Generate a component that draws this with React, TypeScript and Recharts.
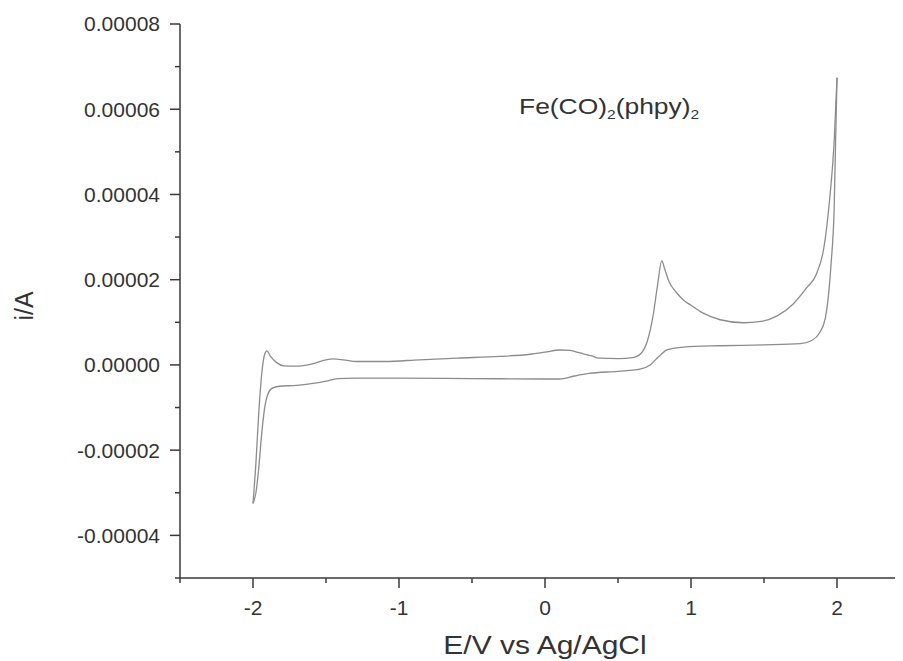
import { Line, LineChart, XAxis, YAxis } from "recharts";

// forward scan (-2 V -> +2 V), potential in V, current in A
const upperE = [-2.0, -1.98, -1.96, -1.94, -1.92, -1.905, -1.88, -1.84, -1.79, -1.7, -1.6, -1.5, -1.45, -1.38, -1.29, -1.1, -0.86, -0.6, -0.31, -0.1, 0.0, 0.1, 0.17, 0.24, 0.32, 0.37, 0.5, 0.6, 0.66, 0.7, 0.74, 0.77, 0.8, 0.82, 0.85, 0.9, 0.95, 1.0, 1.08, 1.2, 1.36, 1.48, 1.59, 1.7, 1.79, 1.86, 1.91, 1.95, 1.98, 2.0];
const upperI = [-3.25e-5, -2.3e-5, -1.1e-5, -0.2e-5, 0.25e-5, 0.33e-5, 0.2e-5, 0.06e-5, -0.02e-5, -0.03e-5, 0.02e-5, 0.12e-5, 0.14e-5, 0.12e-5, 0.08e-5, 0.08e-5, 0.12e-5, 0.16e-5, 0.2e-5, 0.25e-5, 0.3e-5, 0.35e-5, 0.34e-5, 0.28e-5, 0.21e-5, 0.16e-5, 0.15e-5, 0.17e-5, 0.28e-5, 0.55e-5, 1.15e-5, 1.85e-5, 2.44e-5, 2.25e-5, 1.95e-5, 1.7e-5, 1.52e-5, 1.4e-5, 1.22e-5, 1.06e-5, 0.99e-5, 1.02e-5, 1.15e-5, 1.43e-5, 1.8e-5, 2.14e-5, 2.75e-5, 3.9e-5, 5.2e-5, 6.74e-5];

// reverse scan (+2 V -> -2 V), listed by rising potential
const lowerE = [-2.0, -1.98, -1.96, -1.94, -1.92, -1.9, -1.87, -1.82, -1.7, -1.6, -1.5, -1.42, -1.3, -1.0, -0.5, 0.0, 0.1, 0.2, 0.3, 0.5, 0.65, 0.72, 0.78, 0.84, 0.95, 1.2, 1.5, 1.75, 1.83, 1.88, 1.92, 1.96, 1.98, 2.0];
const lowerI = [-3.25e-5, -3.0e-5, -2.4e-5, -1.6e-5, -1.0e-5, -0.7e-5, -0.55e-5, -0.5e-5, -0.48e-5, -0.44e-5, -0.38e-5, -0.32e-5, -0.31e-5, -0.31e-5, -0.32e-5, -0.33e-5, -0.33e-5, -0.26e-5, -0.2e-5, -0.15e-5, -0.1e-5, 0.0, 0.2e-5, 0.36e-5, 0.42e-5, 0.45e-5, 0.47e-5, 0.5e-5, 0.58e-5, 0.75e-5, 1.1e-5, 2.4e-5, 3.6e-5, 6.74e-5];

const xTicks = [-2.5, -2, -1.5, -1, -0.5, 0, 0.5, 1, 1.5, 2, 2.5];
const yTicks = [-0.00005, -0.00004, -0.00003, -0.00002, -0.00001, 0, 0.00001, 0.00002, 0.00003, 0.00004, 0.00005, 0.00006, 0.00007, 0.00008];

const upper = upperE.map((e, k) => ({ e, i: upperI[k] }));
const lower = lowerE.map((e, k) => ({ e, i: lowerI[k] }));

const AXIS = "#3a3a3a";
const TEXT = "#333";
const FONT = "'Liberation Sans', Arial, sans-serif";

function YTick(props: any) {
  const { x, y, payload } = props;
  const v = payload.value as number;
  const major = Math.round(v / 1e-5) % 2 === 0;
  const ax = x + 20;
  return (
    <g>
      <line x1={ax - (major ? 10 : 5)} x2={ax} y1={y} y2={y} stroke={AXIS} strokeWidth={1.5} />
      {major && (
        <text x={x} y={y} dy="0.355em" textAnchor="end" fill={TEXT} fontSize={21} fontFamily={FONT}>
          {v.toFixed(5)}
        </text>
      )}
    </g>
  );
}

function XTick(props: any) {
  const { x, y, payload } = props;
  const v = payload.value as number;
  const major = Number.isInteger(v) && Math.abs(v) <= 2;
  const ay = y - 22;
  return (
    <g>
      <line x1={x} x2={x} y1={ay} y2={ay + (major ? 10 : 5)} stroke={AXIS} strokeWidth={1.5} />
      {major && (
        <text x={x} y={y} dy="0.71em" textAnchor="middle" fill={TEXT} fontSize={21} fontFamily={FONT}>
          {v}
        </text>
      )}
    </g>
  );
}

export default function App() {
  return (
    <div style={{ position: "relative", width: 895, height: 653, overflow: "hidden", fontFamily: FONT, color: TEXT }}>
      <LineChart width={910} height={653} margin={{ top: 16, right: 8, bottom: 8, left: 0 }}>
        <XAxis
          type="number"
          dataKey="e"
          domain={[-2.5, 2.5]}
          ticks={xTicks}
          interval={0}
          height={75}
          tickSize={10}
          tickMargin={12}
          tickLine={false}
          tick={<XTick />}
          axisLine={{ stroke: AXIS, strokeWidth: 1.5 }}
        />
        <YAxis
          type="number"
          dataKey="i"
          domain={[-0.00005, 0.00008]}
          ticks={yTicks}
          interval={0}
          width={172}
          tickSize={10}
          tickMargin={10}
          tickLine={false}
          tick={<YTick />}
          axisLine={{ stroke: AXIS, strokeWidth: 1.5 }}
        />
        <Line data={upper} dataKey="i" type="monotoneX" stroke="#8c8c8c" strokeWidth={1.3} dot={false} isAnimationActive={false} />
        <Line data={lower} dataKey="i" type="monotoneX" stroke="#8c8c8c" strokeWidth={1.3} dot={false} isAnimationActive={false} />
      </LineChart>
      <div style={{ position: "absolute", left: 16, top: 298, transform: "translate(-50%, -50%) rotate(-90deg)", fontSize: 25, whiteSpace: "nowrap" }}>
        i/A
      </div>
      <div style={{ position: "absolute", left: 537, top: 637, transform: "translate(-50%, -50%) scaleX(1.2)", fontSize: 25, whiteSpace: "nowrap" }}>
        E/V vs Ag/AgCl
      </div>
      <div style={{ position: "absolute", left: 511, top: 88, fontSize: 22, lineHeight: 1, whiteSpace: "nowrap", transform: "scaleX(1.2)", transformOrigin: "left center" }}>
        Fe(CO)<sub style={{ fontSize: 13, verticalAlign: -5 }}>2</sub>(phpy)<sub style={{ fontSize: 13, verticalAlign: -5 }}>2</sub>
      </div>
    </div>
  );
}
